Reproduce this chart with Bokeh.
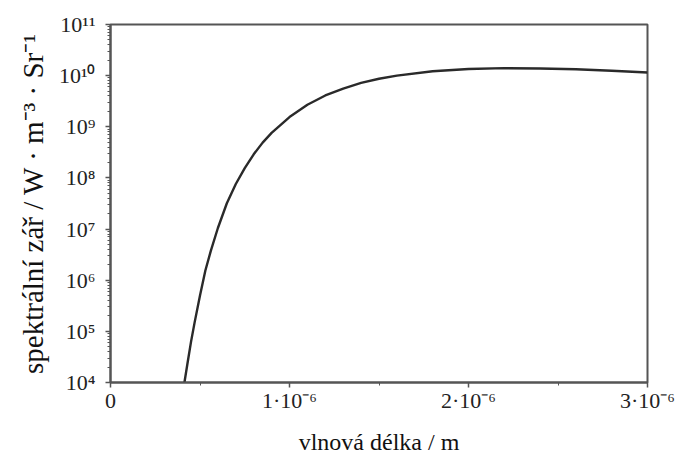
from bokeh.plotting import figure
from bokeh.models import FixedTicker, ColumnDataSource
from bokeh.embed import file_html
from bokeh.resources import INLINE

# wavelength (m) and spectral radiance (W m^-3 Sr^-1)
wavelength = [0.413e-6, 0.43e-6, 0.45e-6, 0.47e-6, 0.50e-6, 0.53e-6, 0.56e-6,
              0.60e-6, 0.65e-6, 0.70e-6, 0.75e-6, 0.80e-6, 0.85e-6, 0.90e-6,
              1.0e-6, 1.1e-6, 1.2e-6, 1.3e-6, 1.4e-6, 1.5e-6, 1.6e-6,
              1.8e-6, 2.0e-6, 2.2e-6, 2.4e-6, 2.6e-6, 2.8e-6, 3.0e-6]
radiance = [1.0e4, 2.35e4, 6.3e4, 1.5e5, 5.0e5, 1.55e6, 3.7e6,
            1.05e7, 3.2e7, 7.6e7, 1.55e8, 2.9e8, 4.9e8, 7.6e8,
            1.55e9, 2.7e9, 4.1e9, 5.6e9, 7.2e9, 8.7e9, 1.0e10,
            1.22e10, 1.35e10, 1.4e10, 1.38e10, 1.33e10, 1.25e10, 1.15e10]

x_ticks = [0, 1e-6, 2e-6, 3e-6]
x_minor = [0.5e-6, 1.5e-6, 2.5e-6]
x_labels = ["0", "1·10⁻⁶", "2·10⁻⁶", "3·10⁻⁶"]
y_ticks = [1e4, 1e5, 1e6, 1e7, 1e8, 1e9, 1e10, 1e11]
y_labels = ["10⁴", "10⁵", "10⁶", "10⁷", "10⁸", "10⁹", "10¹⁰", "10¹¹"]

FONT = "Liberation Serif"
AX = "#555555"

p = figure(frame_width=537, frame_height=358, y_axis_type="log",
           x_range=(0, 3e-6), y_range=(1e4, 1e11),
           output_backend="svg", toolbar_location=None,
           min_border_left=110, min_border_right=31, min_border_top=24,
           min_border_bottom=80)

src = ColumnDataSource(dict(x=wavelength, y=radiance))
p.line("x", "y", source=src, line_color="#2a2a2a", line_width=2.4,
       line_join="round")

p.grid.visible = False
p.outline_line_color = AX
p.outline_line_width = 2
p.background_fill_color = "white"
p.border_fill_color = "white"

xa = p.xaxis[0]
xa.ticker = FixedTicker(ticks=x_ticks, minor_ticks=x_minor)
xa.major_label_overrides = {t: l for t, l in zip(x_ticks, x_labels)}
xa.axis_label = "vlnová délka / m"

ya = p.yaxis[0]
y_minor = [m * d for d in y_ticks[:-1] for m in range(2, 10)]
ya.ticker = FixedTicker(ticks=y_ticks, minor_ticks=y_minor)
ya.major_label_overrides = {t: l for t, l in zip(y_ticks, y_labels)}
ya.axis_label = "spektrální zář / W · m⁻³ · Sr⁻¹"

for ax in (xa, ya):
    ax.axis_line_color = AX
    ax.axis_line_width = 2
    ax.major_tick_line_color = AX
    ax.minor_tick_line_color = AX
    ax.major_tick_line_width = 1.5
    ax.minor_tick_line_width = 1
    ax.major_tick_in = 0
    ax.major_tick_out = 5
    ax.minor_tick_in = 0
    ax.minor_tick_out = 3
    ax.major_label_text_font = FONT
    ax.major_label_text_font_size = "22px"
    ax.major_label_text_color = "#222222"
    ax.axis_label_text_font = FONT
    ax.axis_label_text_font_style = "normal"
    ax.axis_label_text_color = "#111111"

xa.axis_label_text_font_size = "24px"
ya.axis_label_text_font_size = "29px"
xa.major_label_standoff = 0
xa.axis_label_standoff = 13
ya.major_label_standoff = 10
ya.axis_label_standoff = 7

open("out.html", "w").write(file_html(p, INLINE))
